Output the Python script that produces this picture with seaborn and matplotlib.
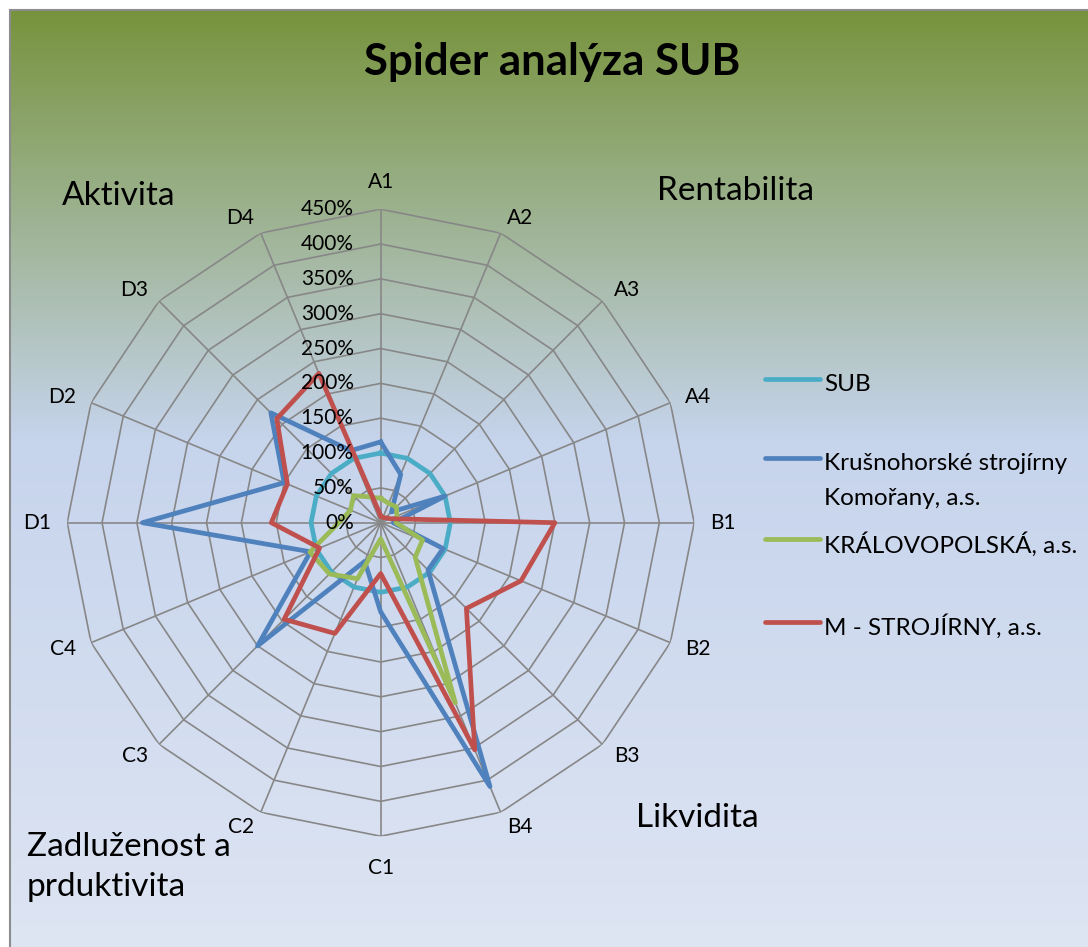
import numpy as np
import pandas as pd
import matplotlib
matplotlib.use("Agg")
import matplotlib.pyplot as plt
import seaborn as sns
from matplotlib import transforms

# ---------------- data ----------------
categories = ["A1", "A2", "A3", "A4", "B1", "B2", "B3", "B4",
              "C1", "C2", "C3", "C4", "D1", "D2", "D3", "D4"]
series_names = ["SUB", "Krušnohorské strojírny\nKomořany, a.s.",
                "KRÁLOVOPOLSKÁ, a.s.", "M - STROJÍRNY, a.s."]
sub_vals = [100, 100, 100, 100, 100, 100, 100, 100,
            100, 100, 100, 100, 100, 100, 100, 100]
krus_vals = [116, 75, 22, 100, 18, 97, 96, 410,
             128, 60, 250, 109, 342, 150, 223, 112]
kral_vals = [35, 30, 32, 25, 22, 65, 70, 280,
             23, 87, 104, 110, 60, 47, 55, 40]
mstr_vals = [10, 8, 10, 15, 250, 218, 174, 353,
             73, 172, 196, 95, 157, 145, 211, 232]
ring_ticks = [0, 50, 100, 150, 200, 250, 300, 350, 400, 450]
tick_labels = ["0%", "50%", "100%", "150%", "200%", "250%", "300%", "350%", "400%", "450%"]
section_labels = ["Aktivita", "Rentabilita", "Likvidita", "Zadluženost a\nprduktivita"]
colors = ["#4BACC6", "#4F81BD", "#9BBB59", "#C0504D"]

W, H = 1088, 947
plt.rcParams["font.family"] = ["Lato", "DejaVu Sans"]

fig = plt.figure(figsize=(W / 100, H / 100), dpi=100)
fig.patch.set_facecolor("white")

# ---------------- gradient background ----------------
bg = fig.add_axes([10 / W, 0, (W - 10) / W, (H - 10) / H])
ys = np.arange(10, H)
stops_y = [10, 440, H]
stops_c = np.array([[119, 147, 60], [198, 212, 236], [222, 229, 243]]) / 255.0
grad = np.stack([np.interp(ys, stops_y, stops_c[:, k]) for k in range(3)], axis=1)
img = np.repeat(grad[:, None, :], 2, axis=1)
bg.imshow(img, aspect="auto", extent=[0, 1, 0, 1], interpolation="bilinear")
bg.set_xticks([]); bg.set_yticks([])
for s in ["right", "bottom"]:
    bg.spines[s].set_visible(False)
for s in ["left", "top"]:
    bg.spines[s].set_color("#8c8c8c")
    bg.spines[s].set_linewidth(1.5)
bg.set_zorder(0)

# ---------------- polar axes ----------------
cx, cy, R = 380.7, 522.7, 313.5
ax = fig.add_axes([(cx - R) / W, (H - cy - R) / H, 2 * R / W, 2 * R / H], projection="polar")
ax.set_zorder(1)
ax.set_facecolor("none")
ax.set_theta_zero_location("N")
ax.set_theta_direction(-1)
ax.grid(False)
ax.spines["polar"].set_visible(False)

n = len(categories)
theta = np.linspace(0, 2 * np.pi, n + 1)

# polygon grid
grid_col = "#878787"
for v in ring_ticks[1:]:
    ax.plot(theta, [v] * (n + 1), color=grid_col, lw=1.2, zorder=1)
for t in theta[:-1]:
    ax.plot([t, t], [0, ring_ticks[-1]], color=grid_col, lw=1.2, zorder=1)

# data
rows = []
for name, vals in zip(series_names, [sub_vals, krus_vals, kral_vals, mstr_vals]):
    for i in range(n + 1):
        rows.append({"theta": theta[i], "value": vals[i % n], "series": name})
df = pd.DataFrame(rows)
sns.lineplot(data=df, x="theta", y="value", hue="series", hue_order=series_names,
             palette=colors, estimator=None, sort=False, linewidth=3.4,
             legend=False, ax=ax, zorder=3)

ax.set_ylim(0, 450)
ax.set_xticks([]); ax.set_yticks([])
ax.set_xlabel(""); ax.set_ylabel("")

# radial tick labels
off = transforms.offset_copy(ax.transData, fig=fig, x=-27, y=0, units="dots")
for v, lab in zip(ring_ticks, tick_labels):
    ax.text(0, v, lab, transform=off, ha="right", va="center", fontsize=15, color="black", zorder=5)

# category labels (Excel-like alignment around the outer ring)
for t, lab in zip(theta[:-1], categories):
    s, c = np.sin(t), np.cos(t)
    r = 473
    if abs(s) < 1e-6:
        ha = "center"
        if c > 0:
            va = "bottom"
            r = 475
        else:
            va = "top"
            r = 481
    else:
        ha = "left" if s > 0 else "right"
        va = "center"
    ax.text(t, r, lab, ha=ha, va=va, fontsize=15, color="black")

# title and section labels
fig.text(552 / W, 1 - 75 / H, "Spider analýza SUB", ha="center", va="baseline",
         fontsize=31.5, fontweight="bold", color="black")
sec_pos = [(62, 205), (657, 200), (636, 827), (27, 896)]
for (px, py), lab in zip(sec_pos, section_labels):
    fig.text(px / W, 1 - py / H, lab, ha="left", va="baseline", fontsize=24,
             color="black", linespacing=1.42)

# legend
handles = ax.get_lines()[-4:]
leg_labels = [s if "\n" in s else s + "\n " for s in series_names]
leg = fig.legend(handles, leg_labels, loc="upper left",
                 bbox_to_anchor=(765 / W, 1 - 374 / H), frameon=False,
                 fontsize=17.5, handlelength=2.26, handletextpad=0.16,
                 borderpad=0, borderaxespad=0, labelspacing=0.93)
for t in leg.get_texts():
    t.set_linespacing(1.84)
for h in leg.legend_handles:
    h.set_linewidth(3.4)
    h.set_solid_capstyle("round")
    h.set_ydata(np.asarray(h.get_ydata()) + 16.3)

fig.savefig("out.png", dpi=100)
